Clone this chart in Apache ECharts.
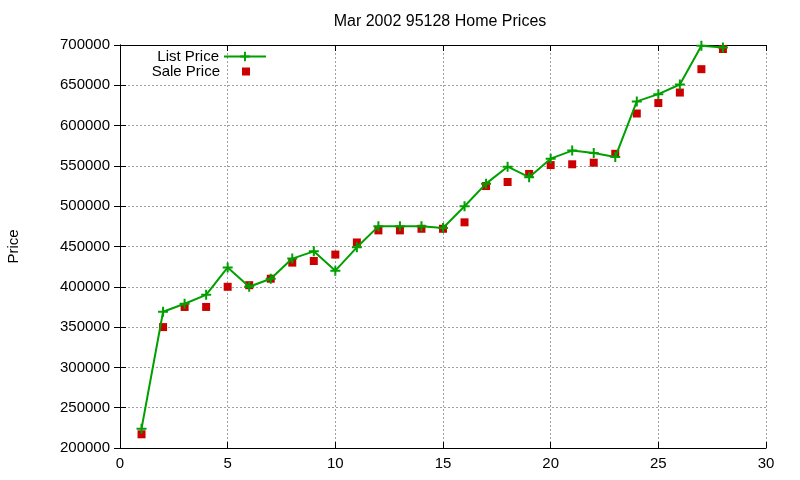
<!DOCTYPE html>
<html>
<head>
<meta charset="utf-8">
<script src="https://cdn.jsdelivr.net/npm/echarts@6/dist/echarts.min.js"></script>
<style>html,body{margin:0;padding:0;background:#fff}#c{width:800px;height:480px}</style>
</head>
<body>
<div id="c"></div>
<script>
var days = [1,2,3,4,5,6,7,8,9,10,11,12,13,14,15,16,17,18,19,20,21,22,23,24,25,26,27,28];
var listPrice = [224000,369000,379000,390000,424000,400000,410000,435000,444000,420000,449000,475000,475000,475000,473000,500000,528000,549000,536000,559000,569000,566000,561000,630000,639000,651000,699000,697000];
var salePrice = [217000,350000,375000,375000,400000,402000,410000,430000,432000,440000,455000,470000,470000,472000,472000,480000,525000,530000,540000,551000,552000,554000,565000,615000,628000,641000,670000,695000];
var xTicks = [0,5,10,15,20,25,30];
var yTicks = [200000,250000,300000,350000,400000,450000,500000,550000,600000,650000,700000];

var FONT = 'Liberation Sans';
var GREEN = '#00a000';
var RED = '#cc0000';
var PLUS = 'path://M0,4L10,4L10,6L0,6Z M4,0L6,0L6,10L4,10Z';
// square centred in a 42x8 box (degenerate corner points fix the box size)
var LEGEND_SQUARE = 'path://M0,0L0,0ZM42,8L42,8ZM17,0L25,0L25,8L17,8Z';

function pairs(xs, ys){ return xs.map(function(x,i){ return [x, ys[i]]; }); }

var chart = echarts.init(document.getElementById('c'), null, {renderer:'canvas'});
var gridLine = {show:true, lineStyle:{color:'#a0a0a0', type:[2,2], width:1}};
var axisLine = {show:true, lineStyle:{color:'#000', width:1}};
var tick = {show:true, inside:true, length:6, lineStyle:{color:'#000'}};
chart.setOption({
  animation:false,
  backgroundColor:'#fff',
  textStyle:{fontFamily:FONT},
  title:{text:'Mar 2002 95128 Home Prices', left:435, textAlign:'center', top:9,
    textStyle:{fontFamily:FONT, fontSize:16, fontWeight:'normal', color:'#000'}},
  legend:[
    {data:['List Price'], orient:'vertical', align:'right', right:533, top:49, padding:0,
     itemWidth:42, itemHeight:12, selectedMode:false,
     textStyle:{fontFamily:FONT, fontSize:15, color:'#000'}},
    {data:[{name:'Sale Price', icon:LEGEND_SQUARE}], orient:'vertical', align:'right', right:533, top:64, padding:0,
     itemWidth:42, itemHeight:8, selectedMode:false,
     textStyle:{fontFamily:FONT, fontSize:15, color:'#000'}}
  ],
  grid:{left:120, right:34, top:45, bottom:32, containLabel:false, outerBoundsMode:'none'},
  xAxis:[
    {type:'value', min:0, max:30, interval:5, position:'bottom',
     axisLine:axisLine, axisTick:tick,
     axisLabel:{fontFamily:FONT, fontSize:15, color:'#000', margin:8},
     splitLine:gridLine},
    {type:'value', min:0, max:30, interval:5, position:'top',
     axisLine:axisLine, axisTick:tick,
     axisLabel:{show:false}, splitLine:{show:false}}
  ],
  yAxis:[
    {type:'value', min:200000, max:700000, interval:50000, position:'left',
     name:'Price', nameLocation:'middle', nameGap:99, nameRotate:90,
     nameTextStyle:{fontFamily:FONT, fontSize:15, color:'#000'},
     axisLine:axisLine, axisTick:tick,
     axisLabel:{fontFamily:FONT, fontSize:15, color:'#000', margin:10,
       formatter:function(v){ return String(v); }},
     splitLine:gridLine},
    {type:'value', min:200000, max:700000, interval:50000, position:'right',
     axisLine:axisLine, axisTick:tick,
     axisLabel:{show:false}, splitLine:{show:false}}
  ],
  series:[
    {name:'List Price', type:'line', xAxisIndex:0, yAxisIndex:0, data:pairs(days, listPrice),
     symbol:PLUS, symbolSize:10, showAllSymbol:true,
     lineStyle:{color:GREEN, width:2}, itemStyle:{color:GREEN}},
    {name:'Sale Price', type:'scatter', xAxisIndex:0, yAxisIndex:0, data:pairs(days, salePrice),
     symbol:'rect', symbolSize:8, itemStyle:{color:RED, opacity:1}}
  ]
});
</script>
</body>
</html>
